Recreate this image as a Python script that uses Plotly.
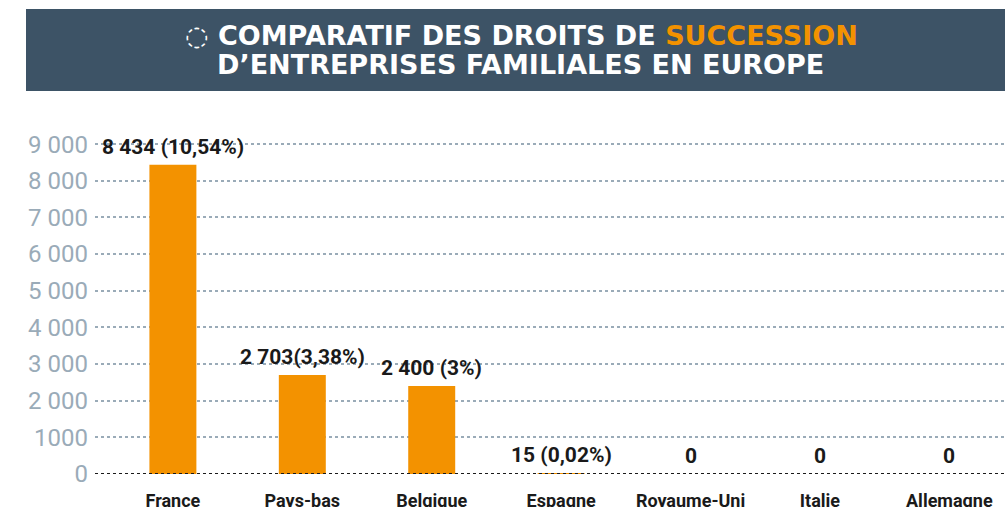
import plotly.graph_objects as go

categories = ["France", "Pays-bas", "Belgique", "Espagne", "Royaume-Uni", "Italie", "Allemagne"]
values = [8434, 2703, 2400, 15, 0, 0, 0]
value_labels = ["8 434 (10,54%)", "2 703(3,38%)", "2 400 (3%)", "15 (0,02%)", "0", "0", "0"]
tick_vals = [0, 1000, 2000, 3000, 4000, 5000, 6000, 7000, 8000, 9000]
tick_text = ["0", "1000", "2 000", "3 000", "4 000", "5 000", "6 000", "7 000", "8 000", "9 000"]
title_line1 = "◌ COMPARATIF DES DROITS DE <span style='color:#f39200'>SUCCESSION</span>"
title_line2 = "D’ENTREPRISES FAMILIALES EN EUROPE"

ORANGE = "#f39200"
TITLE_FONT = "DejaVu Sans, sans-serif"
LABEL_FONT = "Roboto, Liberation Sans, sans-serif"

W, H = 1005, 507
L, R, T, B = 95, 0, 143, 33
pw, ph = W - L - R, H - T - B

def px_x(p):
    return (p - L) / pw

def px_y(p):
    return (H - B - p) / ph

fig = go.Figure()
fig.add_trace(go.Bar(
    x=list(range(len(categories))), y=values,
    marker=dict(color=ORANGE, line=dict(width=0)),
    width=0.363, hoverinfo="skip", cliponaxis=False,
))

annotations = []
for i, (v, lab) in enumerate(zip(values, value_labels)):
    annotations.append(dict(
        x=i, y=v, xref="x", yref="y", text=lab, showarrow=False,
        yanchor="bottom", yshift=4,
        font=dict(family=LABEL_FONT, size=21, color="#1a1a1a", weight="bold"),
    ))
annotations.append(dict(
    x=px_x(521), y=px_y(36), xref="paper", yref="paper", text=title_line1,
    showarrow=False, xanchor="center", yanchor="middle",
    font=dict(family=TITLE_FONT, size=27, color="white", weight="bold"),
))
annotations.append(dict(
    x=px_x(520), y=px_y(65), xref="paper", yref="paper", text=title_line2,
    showarrow=False, xanchor="center", yanchor="middle",
    font=dict(family=TITLE_FONT, size=27, color="white", weight="bold"),
))

fig.update_layout(
    width=W, height=H,
    margin=dict(l=L, r=R, t=T, b=B, pad=0, autoexpand=False),
    paper_bgcolor="white", plot_bgcolor="white",
    showlegend=False,
    annotations=annotations,
    shapes=[dict(
        type="rect", xref="paper", yref="paper",
        x0=px_x(26), x1=px_x(1010), y0=px_y(91), y1=px_y(9),
        fillcolor="#3d5366", line=dict(width=0), layer="below",
    )],
    xaxis=dict(
        range=[-0.602, 6.43],
        tickvals=list(range(len(categories))), ticktext=categories,
        showgrid=False, zeroline=False, showline=False, ticks="",
        tickfont=dict(family=LABEL_FONT, size=18, color="#1a1a1a", weight="bold"),
        ticklabelstandoff=14, automargin=False,
    ),
    yaxis=dict(
        range=[0, 9030],
        tickvals=tick_vals, ticktext=tick_text,
        showgrid=True, gridcolor="#9aabb8", griddash="dot", gridwidth=2,
        zeroline=False,
        showline=False, ticks="", automargin=False,
        tickfont=dict(family=LABEL_FONT, size=24, color="#9aabb8"),
        ticklabelstandoff=6,
    ),
)
fig.add_shape(type="line", xref="paper", yref="y", x0=0, x1=1, y0=0, y1=0,
              line=dict(color="#1a1a1a", width=2, dash="dot"), layer="above")

fig.write_html("out.html", config={"displayModeBar": False},
               post_script="document.body.style.margin='0';document.body.style.overflow='hidden';")
